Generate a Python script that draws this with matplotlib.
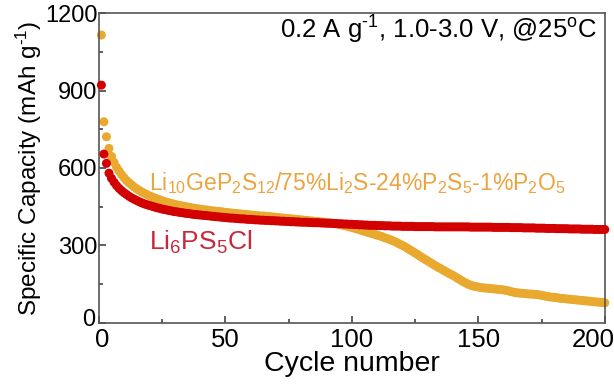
import numpy as np
import matplotlib
matplotlib.use("Agg")
import matplotlib.pyplot as plt
from matplotlib.transforms import ScaledTranslation

plt.rcParams['font.family'] = ['Liberation Sans', 'DejaVu Sans']
plt.rcParams['mathtext.fontset'] = 'custom'
plt.rcParams['mathtext.rm'] = 'Liberation Sans'
plt.rcParams['mathtext.it'] = 'Liberation Sans:italic'

# capacity per cycle (mAh g-1), cycles 1..200
lgps = [
    1115, 779, 721, 676, 645, 622, 603, 588, 574, 562,
    551, 542, 534, 526, 519, 513, 507, 502, 497, 492,
    488, 484, 480, 477, 473, 470, 467, 464, 462, 459,
    457, 455, 453, 451, 449, 447, 445, 444, 442, 441,
    439, 438, 437, 435, 434, 433, 432, 431, 430, 428,
    427, 426, 425, 424, 423, 422, 421, 420, 419, 418,
    417, 416, 415, 414, 414, 413, 412, 411, 410, 409,
    408, 407, 406, 405, 404, 403, 402, 401, 400, 399,
    398, 397, 396, 395, 394, 393, 392, 391, 390, 389,
    388, 386, 385, 383, 381, 379, 377, 375, 372, 370,
    367, 364, 361, 358, 355, 352, 349, 346, 343, 340,
    337, 334, 330, 327, 323, 319, 315, 310, 305, 300,
    295, 289, 283, 277, 271, 265, 258, 252, 246, 240,
    234, 228, 222, 216, 211, 205, 200, 194, 189, 184,
    178, 172, 166, 160, 155, 150, 146, 143, 141, 139,
    137, 136, 135, 134, 133, 132, 131, 130, 129, 128,
    126, 124, 121, 119, 117, 116, 115, 114, 113, 112,
    112, 111, 110, 109, 107, 105, 103, 101, 100, 99,
    98, 96, 95, 94, 93, 92, 91, 90, 89, 88,
    87, 86, 85, 84, 83, 82, 81, 80, 79, 78,
]

lpsc = [
    921, 654, 618, 580, 560, 545, 532, 521, 512, 504,
    497, 490, 484, 479, 474, 469, 465, 461, 458, 455,
    452, 449, 446, 444, 441, 439, 437, 435, 433, 431,
    430, 428, 427, 425, 424, 423, 421, 420, 419, 418,
    417, 416, 415, 414, 413, 412, 411, 410, 409, 408,
    407, 406, 406, 405, 404, 403, 403, 402, 401, 401,
    400, 399, 399, 398, 398, 397, 397, 396, 396, 395,
    395, 394, 394, 393, 393, 392, 392, 391, 391, 390,
    390, 390, 389, 389, 388, 388, 388, 387, 387, 386,
    386, 386, 385, 385, 384, 384, 383, 383, 382, 382,
    381, 381, 380, 380, 379, 379, 378, 378, 378, 377,
    377, 377, 376, 376, 376, 375, 375, 375, 375, 374,
    374, 374, 374, 374, 373, 373, 373, 373, 373, 373,
    373, 373, 372, 372, 372, 372, 372, 372, 372, 372,
    372, 372, 372, 372, 372, 372, 371, 371, 371, 371,
    371, 371, 371, 371, 371, 370, 370, 370, 370, 370,
    370, 370, 369, 369, 369, 369, 369, 368, 368, 368,
    368, 368, 367, 367, 367, 367, 366, 366, 366, 366,
    365, 365, 365, 365, 365, 364, 364, 364, 364, 364,
    363, 363, 363, 363, 363, 362, 362, 362, 362, 362,
]

cycles = np.arange(1, len(lgps) + 1)

fig = plt.figure(figsize=(6.14, 3.84), dpi=100)
ax = fig.add_axes([0.161, 0.159, 0.824, 0.807])

ax.scatter(cycles, lgps, s=42, color='#E8A92E', edgecolors='none', zorder=2, clip_on=False)
ax.scatter(cycles, lpsc, s=42, color='#D20000', edgecolors='none', zorder=3, clip_on=False)

ax.set_xlim(0, 200)
ax.set_ylim(0, 1200)
ax.set_xticks([0, 50, 100, 150, 200])
ax.set_xticks([25, 75, 125, 175], minor=True)
ax.set_yticks([0, 300, 600, 900, 1200])
ax.set_yticks([150, 450, 750, 1050], minor=True)
ax.tick_params(which='both', direction='in', color='#333333', width=1.1)
ax.tick_params(axis='x', which='major', length=5, pad=4, labelsize=18.5)
ax.tick_params(axis='y', which='major', length=5, pad=1, labelsize=17)
ax.tick_params(which='minor', length=3)
for sp in ax.spines.values():
    sp.set_color('#555555')
    sp.set_linewidth(1.2)

# nudge corner labels so they do not collide or run off the canvas
def nudge(label, dx, dy):
    label.set_transform(label.get_transform() + ScaledTranslation(dx / 100, dy / 100, fig.dpi_scale_trans))

nudge(ax.xaxis.get_major_ticks()[-1].label1, -12, 0)
nudge(ax.xaxis.get_major_ticks()[0].label1, 3, 0)
nudge(ax.yaxis.get_major_ticks()[0].label1, -2, 5)

ax.set_xlabel('Cycle number', fontsize=20.5, labelpad=-1)
ax.set_ylabel('Specific Capacity (mAh g$^{\u20101}$)', fontsize=17.5, labelpad=1)

ax.text(197, 1135, '0.2 A g$^{\u20101}$, 1.0-3.0 V, @25$^{\\rm o}$C', fontsize=18.5,
        ha='right', va='center')
ax.text(20, 515, r'Li$_{10}$GeP$_2$S$_{12}$/75%Li$_2$S-24%P$_2$S$_5$-1%P$_2$O$_5$',
        fontsize=16.5, color='#EBA440', ha='left', va='baseline')
ax.text(20, 283, r'Li$_6$PS$_5$Cl', fontsize=19, color='#C8283A', ha='left', va='baseline')

fig.savefig('out.png', dpi=100)
